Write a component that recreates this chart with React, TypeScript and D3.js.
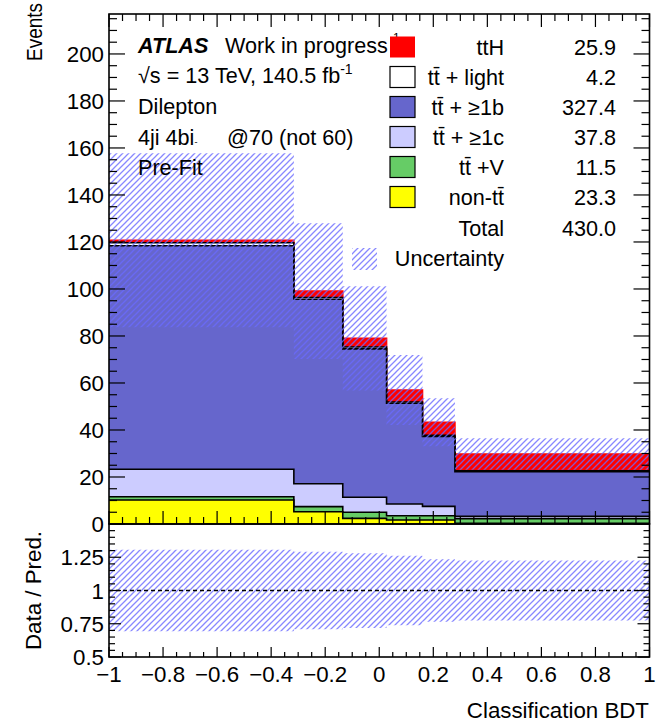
import React from 'react';
import * as d3 from 'd3';

// ---------- data ----------
const binEdges = [-1, -0.316, -0.135, 0.027, 0.16, 0.28, 1];
const nonTT = [10.2, 5.2, 2.4, 1.7, 1.7, 0.3];
const ttV = [1.4, 2.2, 2.6, 1.8, 1.8, 2.0];
const tt1c = [11.7, 9.7, 6.4, 5.0, 4.0, 1.0];
const tt1b = [95.1, 78.5, 63.1, 42.9, 29.7, 19.0];
const ttLight = [1.3, 0.8, 0.8, 0.5, 0.5, 0.3];
const ttH = [1.0, 2.7, 3.7, 5.1, 5.6, 7.2];
const uncertainty = [37.0, 28.9, 22.2, 14.9, 10.2, 6.7];

const legendNames = ['ttH', 'tt\u0304 + light', 'tt\u0304 + \u22651b', 'tt\u0304 + \u22651c', 'tt\u0304 +V', 'non-tt\u0304'];
const legendYields = ['25.9', '4.2', '327.4', '37.8', '11.5', '23.3'];
const totalYield = '430.0';
const xTickLabels = ['\u22121', '\u22120.8', '\u22120.6', '\u22120.4', '\u22120.2', '0', '0.2', '0.4', '0.6', '0.8', '1'];
const xTickValues = [-1, -0.8, -0.6, -0.4, -0.2, 0, 0.2, 0.4, 0.6, 0.8, 1];
const yTickValues = [0, 20, 40, 60, 80, 100, 120, 140, 160, 180, 200];
const ratioTickValues = [0.5, 0.75, 1, 1.25];
const ratioTickLabels = ['0.5', '0.75', '1', '1.25'];

// ---------- layout ----------
const W = 667, H = 722;
const L = 109, R = 649.5;
const MT = 14, MB = 524;
const RT = 524, RB = 657;
const FONT = "'Liberation Sans', Arial, Helvetica, sans-serif";

const COLORS = {
  ttH: '#ff0000',
  light: '#ffffff',
  b: '#6666cc',
  c: '#ccccff',
  v: '#66cc66',
  non: '#ffff00',
};

export default function App() {
  const x = d3.scaleLinear().domain([-1, 1]).range([L, R]);
  const y = d3.scaleLinear().domain([0, 217]).range([MB, MT]);
  const yr = d3.scaleLinear().domain([0.5, 1.5]).range([RB, RT]);

  const layers = [
    { v: nonTT, fill: COLORS.non, stroke: '#000' },
    { v: ttV, fill: COLORS.v, stroke: '#000' },
    { v: tt1c, fill: COLORS.c, stroke: '#000' },
    { v: tt1b, fill: COLORS.b, stroke: '#000' },
    { v: ttLight, fill: COLORS.light, stroke: '#000' },
    { v: ttH, fill: COLORS.ttH, stroke: COLORS.ttH },
  ];
  const cum: number[][] = [];
  layers.forEach((ly, k) => {
    cum.push(ly.v.map((val, i) => val + (k > 0 ? cum[k - 1][i] : 0)));
  });
  const total = cum[cum.length - 1];

  const pts = (vals: number[]) => binEdges.map((e, i) => [e, vals[Math.min(i, vals.length - 1)]] as [number, number]);

  const area = d3.area<[number, number]>()
    .x(d => x(d[0])).y0(y(0)).y1(d => y(d[1])).curve(d3.curveStepAfter);
  const line = d3.line<[number, number]>()
    .x(d => x(d[0])).y(d => y(d[1])).curve(d3.curveStepAfter);

  const bandPts = binEdges.map((e, i) => {
    const j = Math.min(i, total.length - 1);
    return { e, lo: total[j] - uncertainty[j], hi: total[j] + uncertainty[j], r: uncertainty[j] / total[j] };
  });
  const bandArea = d3.area<any>().x(d => x(d.e)).y0(d => y(d.lo)).y1(d => y(d.hi)).curve(d3.curveStepAfter);
  const ratioBand = d3.area<any>().x(d => x(d.e)).y0(d => yr(1 - d.r)).y1(d => yr(1 + d.r)).curve(d3.curveStepAfter);

  // ticks
  const xMinor = d3.range(-1, 1.0001, 0.05);
  const yMinor = d3.range(0, 217, 5);
  const rMinor = d3.range(0.5, 1.5001, 0.05);

  const legendY = [47, 77, 107, 137, 167, 197];
  const legendFills = [COLORS.ttH, COLORS.light, COLORS.b, COLORS.c, COLORS.v, COLORS.non];

  const fs = 21.6;

  return (
    <svg width={W} height={H} style={{ position: 'absolute', left: 0, top: 0, background: '#fff' }} fontFamily={FONT}>
      <defs>
        <pattern id="hatch" patternUnits="userSpaceOnUse" width="6" height="6">
          <path d="M-1,1 l2,-2 M0,6 l6,-6 M5,7 l2,-2" stroke="#6a6aff" strokeWidth="1.3" strokeOpacity="0.8" />
        </pattern>
        <clipPath id="mainClip"><rect x={L} y={MT} width={R - L} height={MB - MT} /></clipPath>
        <clipPath id="ratioClip"><rect x={L} y={RT} width={R - L} height={RB - RT} /></clipPath>
      </defs>
      <rect x={0} y={0} width={W} height={H} fill="#fff" />

      {/* main stack */}
      <g clipPath="url(#mainClip)">
        {layers.map((ly, k) => k).reverse().map(k => (
          <g key={k}>
            <path d={area(pts(cum[k])) || ''} fill={layers[k].fill} stroke="none" />
            <path d={line(pts(cum[k])) || ''} fill="none" stroke={layers[k].stroke} strokeWidth={1.6} />
          </g>
        ))}
        <path d={bandArea(bandPts) || ''} fill="url(#hatch)" />
      </g>

      {/* ratio */}
      <g clipPath="url(#ratioClip)">
        <path d={ratioBand(bandPts) || ''} fill="url(#hatch)" />
        <line x1={L} x2={R} y1={yr(1)} y2={yr(1)} stroke="#000" strokeWidth={1.3} strokeDasharray="4,3" />
      </g>

      {/* main ticks */}
      <g stroke="#000" strokeWidth={1.2}>
        {yMinor.map(v => {
          const len = v % 20 === 0 ? 16 : 8;
          return (
            <g key={'ym' + v}>
              <line x1={L} x2={L + len} y1={y(v)} y2={y(v)} />
              <line x1={R} x2={R - len} y1={y(v)} y2={y(v)} />
            </g>
          );
        })}
        {xMinor.map((v, i) => {
          const len = i % 4 === 0 ? 13 : 7;
          return (
            <g key={'xm' + i}>
              <line x1={x(v)} x2={x(v)} y1={MB} y2={MB - len} />
              <line x1={x(v)} x2={x(v)} y1={MT} y2={MT + len} />
            </g>
          );
        })}
        {rMinor.map((v, i) => {
          const len = i % 5 === 0 ? 12 : 6;
          return (
            <g key={'rm' + i}>
              <line x1={L} x2={L + len} y1={yr(v)} y2={yr(v)} />
              <line x1={R} x2={R - len} y1={yr(v)} y2={yr(v)} />
            </g>
          );
        })}
        {xMinor.map((v, i) => {
          const len = i % 4 === 0 ? 10 : 5;
          return <line key={'xr' + i} x1={x(v)} x2={x(v)} y1={RB} y2={RB - len} />;
        })}
      </g>

      {/* frames */}
      <rect x={L} y={MT} width={R - L} height={MB - MT} fill="none" stroke="#000" strokeWidth={1.6} />
      <rect x={L} y={RT} width={R - L} height={RB - RT} fill="none" stroke="#000" strokeWidth={1.6} />

      {/* axis labels */}
      <g fontSize={22.3} fill="#000">
        {yTickValues.map(v => (
          <text key={'yl' + v} x={104} y={y(v) + 8} textAnchor="end">{v}</text>
        ))}
        {ratioTickValues.map((v, i) => (
          <text key={'rl' + v} x={104} y={yr(v) + 8} textAnchor="end">{ratioTickLabels[i]}</text>
        ))}
        {xTickValues.map((v, i) => (
          <text key={'xl' + i} x={x(v)} y={682} textAnchor="middle">{xTickLabels[i]}</text>
        ))}
        <text x={649} y={718} textAnchor="end">Classification BDT</text>
        <text transform="translate(42,3) rotate(-90) scale(0.85,1)" textAnchor="end">Events</text>
        <text transform={`translate(41,${(RT + RB) / 2}) rotate(-90)`} textAnchor="middle">Data / Pred.</text>
      </g>

      {/* ATLAS label block */}
      <g fontSize={fs} fill="#000">
        <text x={138} y={53} fontWeight="bold" fontStyle="italic">ATLAS</text>
        <text x={225} y={53}>Work in progress</text>
        <text x={393} y={42} fontSize={12}>1</text>
        <text x={138} y={83}>{'\u221As = 13 TeV, 140.5 fb'}<tspan fontSize={14} dy={-9}>-1</tspan></text>
        <text x={138} y={114}>Dilepton</text>
        <text x={138} y={145}>4ji 4bi<tspan fontSize={9}>-</tspan></text>
        <text x={227} y={145}>@70 (not 60)</text>
        <text x={138} y={175}>Pre-Fit</text>
      </g>

      {/* legend */}
      <g fontSize={fs} fill="#000">
        {legendNames.map((n, i) => (
          <g key={'lg' + i}>
            <rect x={390} y={legendY[i] - 10.5} width={25} height={21} fill={legendFills[i]}
              stroke={i === 0 ? 'none' : '#000'} strokeWidth={1.2} />
            <text x={504} y={legendY[i] + 7.5} textAnchor="end">{n}</text>
            <text x={616} y={legendY[i] + 7.5} textAnchor="end">{legendYields[i]}</text>
          </g>
        ))}
        <text x={504} y={235.5} textAnchor="end">Total</text>
        <text x={616} y={235.5} textAnchor="end">{totalYield}</text>
        <rect x={352} y={248} width={25} height={22} fill="url(#hatch)" />
        <text x={504} y={266} textAnchor="end">Uncertainty</text>
      </g>
    </svg>
  );
}
